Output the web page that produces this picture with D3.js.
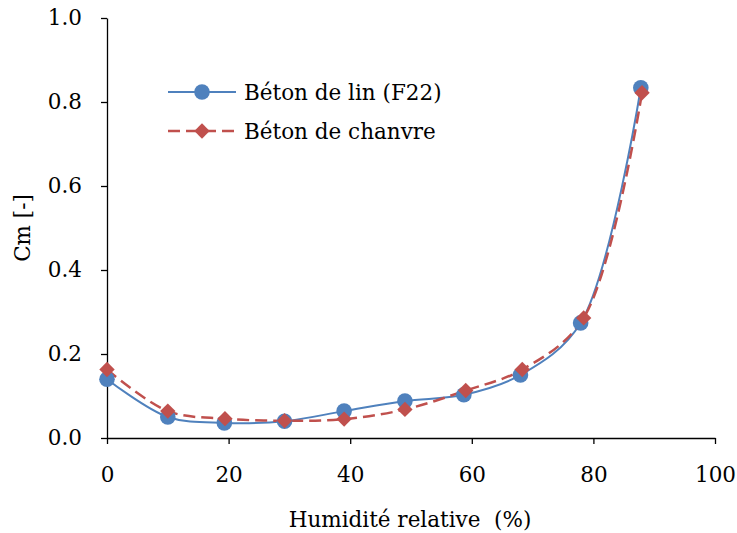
<!DOCTYPE html>
<html><head><meta charset="utf-8">
<script src="https://cdn.jsdelivr.net/npm/d3@7"></script>
<style>body{margin:0;background:#fff}svg{display:block}</style>
</head><body><svg id="c" width="737" height="533"></svg>
<script>
const linX = [0, 10, 19.3, 29.2, 39, 49, 58.7, 68, 77.9, 87.8];
const linY = [0.140, 0.050, 0.036, 0.040, 0.064, 0.088, 0.103, 0.150, 0.274, 0.834];
const chanvreX = [0, 10, 19.4, 29.2, 39, 49, 59, 68.3, 78.4, 88];
const chanvreY = [0.163, 0.064, 0.046, 0.041, 0.045, 0.068, 0.113, 0.163, 0.286, 0.822];
const xTicks = [0, 20, 40, 60, 80, 100];
const yTicks = [0, 0.2, 0.4, 0.6, 0.8, 1.0];
const seriesNames = ["Béton de lin (F22)", "Béton de chanvre"];

const svg = d3.select("#c");
const font = "'DejaVu Serif', 'Liberation Serif', serif";
const fs = 21.5;
const x = d3.scaleLinear().domain([0, 100]).range([107, 715]);
const y = d3.scaleLinear().domain([0, 1]).range([438, 18]);
const blue = "#4F81BD", red = "#C0504D";

// axes
const xa = svg.append("g").attr("transform", "translate(0,438)")
  .call(d3.axisBottom(x).tickValues(xTicks).tickSize(6).tickSizeOuter(0).tickPadding(23).tickFormat(d3.format("d")));
const ya = svg.append("g").attr("transform", "translate(107,0)")
  .call(d3.axisLeft(y).tickValues(yTicks).tickSize(6).tickSizeOuter(0).tickPadding(19).tickFormat(d3.format(".1f")));
[xa, ya].forEach(a => {
  a.selectAll("path,line").attr("stroke", "#000").attr("stroke-width", 1.3);
  a.selectAll("text").attr("font-family", font).attr("font-size", fs).attr("fill", "#000");
});

// lines
const mk = (xs, ys) => xs.map((v, i) => [v, ys[i]]);
const line = d3.line().x(d => x(d[0])).y(d => y(d[1])).curve(d3.curveCatmullRom.alpha(0.5));
const linD = mk(linX, linY), chD = mk(chanvreX, chanvreY);
const dash = "12,6";
svg.append("path").attr("d", line(linD)).attr("fill", "none").attr("stroke", blue).attr("stroke-width", 2);
svg.append("path").attr("d", line(chD)).attr("fill", "none").attr("stroke", red).attr("stroke-width", 2.5).attr("stroke-dasharray", dash);

const dsym = d3.symbol().type(d3.symbolSquare).size(118);
svg.append("g").selectAll("circle").data(linD).join("circle")
  .attr("cx", d => x(d[0])).attr("cy", d => y(d[1])).attr("r", 7.8).attr("fill", blue);
svg.append("g").selectAll("path").data(chD).join("path")
  .attr("d", dsym)
  .attr("transform", d => `translate(${x(d[0])},${y(d[1])}) rotate(45)`).attr("fill", red);

// legend
const lg = svg.append("g");
lg.append("line").attr("x1", 168).attr("x2", 236).attr("y1", 92).attr("y2", 92).attr("stroke", blue).attr("stroke-width", 2);
lg.append("circle").attr("cx", 202).attr("cy", 92).attr("r", 7.8).attr("fill", blue);
lg.append("line").attr("x1", 168).attr("x2", 236).attr("y1", 131).attr("y2", 131).attr("stroke", red).attr("stroke-width", 2.5).attr("stroke-dasharray", dash);
lg.append("path").attr("d", dsym).attr("transform", "translate(202,131) rotate(45)").attr("fill", red);
lg.selectAll("text").data(seriesNames).join("text")
  .attr("x", 244).attr("y", (d, i) => 92 + i * 39).attr("dy", "0.35em")
  .attr("font-family", font).attr("font-size", fs).text(d => d);

// titles
svg.append("text").attr("x", 410).attr("y", 527).attr("text-anchor", "middle").style("white-space", "pre")
  .attr("font-family", font).attr("font-size", fs).text("Humidité relative  (%)");
svg.append("text").attr("transform", "translate(30,228) rotate(-90)").attr("text-anchor", "middle")
  .attr("font-family", font).attr("font-size", fs).text("Cm [-]");
</script></body></html>
